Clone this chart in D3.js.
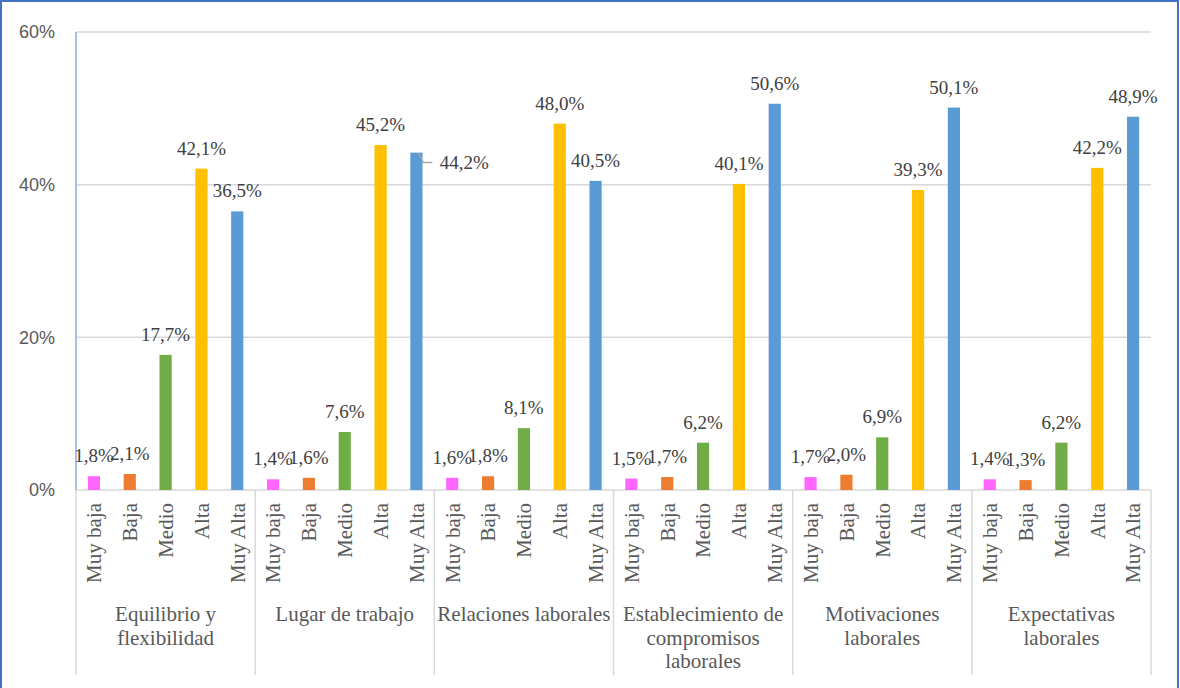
<!DOCTYPE html>
<html><head><meta charset="utf-8">
<script src="https://cdn.jsdelivr.net/npm/d3@7"></script>
<style>html,body{margin:0;padding:0;background:#fff;}</style>
</head><body>
<svg id="chart" width="1180" height="688"></svg>
<script>
const groups = [["Equilibrio y","flexibilidad"],["Lugar de trabajo"],["Relaciones laborales"],["Establecimiento de","compromisos","laborales"],["Motivaciones","laborales"],["Expectativas","laborales"]];
const levels = ["Muy baja","Baja","Medio","Alta","Muy Alta"];
const colors = ["#FF66FF","#ED7D31","#70AD47","#FFC000","#5B9BD5"];
const values = [
  [1.8, 2.1, 17.7, 42.1, 36.5],
  [1.4, 1.6, 7.6, 45.2, 44.2],
  [1.6, 1.8, 8.1, 48.0, 40.5],
  [1.5, 1.7, 6.2, 40.1, 50.6],
  [1.7, 2.0, 6.9, 39.3, 50.1],
  [1.4, 1.3, 6.2, 42.2, 48.9]
];
const yTicks = [0, 20, 40, 60];

const svg = d3.select("#chart");
const L = 76, R = 1151, T = 32, B = 490;
const y = d3.scaleLinear().domain([0, 60]).range([B, T]);
const xg = d3.scaleBand().domain(d3.range(groups.length)).range([L, R]);
const xc = d3.scaleBand().domain(levels).range([0, xg.bandwidth()]).paddingInner(0.66).paddingOuter(0.33);

// border
svg.append("rect").attr("x",1).attr("y",1).attr("width",1177).attr("height",700)
  .attr("fill","none").attr("stroke","#4472C4").attr("stroke-width",2);

// gridlines
svg.append("g").selectAll("line").data(yTicks.filter(d=>d>0)).join("line")
  .attr("x1",L).attr("x2",R).attr("y1",d=>y(d)).attr("y2",d=>y(d))
  .attr("stroke","#d9d9d9").attr("stroke-width",1.5);

// y tick labels
svg.append("g").selectAll("text").data(yTicks).join("text")
  .attr("x",55).attr("y",d=>y(d)).attr("dy","0.35em").attr("text-anchor","end")
  .style("font-family","'Liberation Sans', Arial, sans-serif").attr("font-size",18).attr("fill","#595959")
  .text(d=>d+"%");

// x axis line and separators
svg.append("line").attr("x1",L).attr("x2",R).attr("y1",B).attr("y2",B).attr("stroke","#d9d9d9").attr("stroke-width",1.5);
const seps = d3.range(groups.length+1).map(i => i<groups.length ? xg(i) : R);
svg.append("g").selectAll("line").data(seps).join("line")
  .attr("x1",d=>d).attr("x2",d=>d).attr("y1",B).attr("y2",675)
  .attr("stroke","#d9d9d9").attr("stroke-width",1.5);
// y axis line
svg.append("line").attr("x1",L).attr("x2",L).attr("y1",T).attr("y2",B).attr("stroke","#8FAADC").attr("stroke-width",1.5);

const serif = "'Liberation Serif', 'Times New Roman', serif";
const gSel = svg.append("g").selectAll("g").data(values).join("g")
  .attr("transform",(d,i)=>`translate(${xg(i)},0)`);

gSel.selectAll("rect").data(d=>d).join("rect")
  .attr("x",(d,j)=>xc(levels[j])).attr("width",xc.bandwidth())
  .attr("y",d=>y(d)).attr("height",d=>B-y(d)).attr("fill",(d,j)=>colors[j]);

// data labels
gSel.each(function(row, gi){
  const g = d3.select(this);
  row.forEach((v,j)=>{
    const cx = xc(levels[j]) + xc.bandwidth()/2;
    const txt = v.toFixed(1).replace(".",",")+"%";
    if (gi===1 && j===4) {
      const top = y(v);
      g.append("path").attr("d",`M${cx+2},${top+1}L${cx+7},${top+10}L${cx+16},${top+10}`)
        .attr("fill","none").attr("stroke","#a6a6a6").attr("stroke-width",1.5);
      g.append("text").attr("x",cx+48).attr("y",top+10).attr("dy","0.35em").attr("text-anchor","middle")
        .style("font-family",serif).attr("font-size",19).attr("fill","#404040").text(txt);
    } else {
      g.append("text").attr("x",cx).attr("y",y(v)-14).attr("text-anchor","middle")
        .style("font-family",serif).attr("font-size",19).attr("fill","#404040").text(txt);
    }
  });
  // category labels
  levels.forEach((lv,j)=>{
    const cx = xc(lv) + xc.bandwidth()/2;
    g.append("text").attr("transform",`translate(${cx},503) rotate(-90)`)
      .attr("text-anchor","end").attr("dy","0.35em")
      .style("font-family",serif).attr("font-size",21).attr("fill","#595959").text(lv);
  });
  // group label
  const t = g.append("text").attr("text-anchor","middle")
    .style("font-family",serif).attr("font-size",21).attr("fill","#595959");
  groups[gi].forEach((line,k)=>{
    t.append("tspan").attr("x",xg.bandwidth()/2).attr("y",621+k*23.5).text(line);
  });
});
</script>
</body></html>
